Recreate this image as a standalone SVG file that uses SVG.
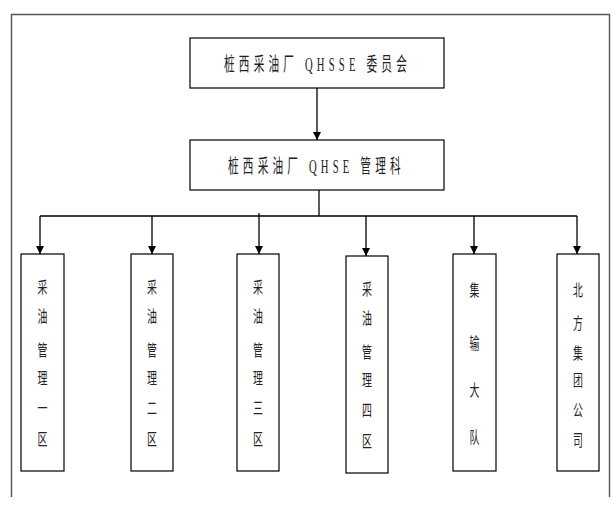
<svg xmlns="http://www.w3.org/2000/svg" width="611" height="507" viewBox="0 0 611 507">
<defs>
<marker id="arr" viewBox="0 0 10 10" refX="10" refY="5" markerWidth="8" markerHeight="8" markerUnits="userSpaceOnUse" orient="auto">
<path d="M0,0 L10,5 L0,10 z" fill="#000"/>
</marker>
<style>
.box{fill:#fff;stroke:#000;stroke-width:1.2}
.ln{fill:none;stroke:#000;stroke-width:1.3}
.t{font-family:"Liberation Serif","Noto Sans CJK SC",serif;font-size:19px;letter-spacing:7.5px;fill:#222}
.v{font-family:"Noto Sans CJK SC",sans-serif;font-size:16px;fill:#222;text-anchor:middle}
</style>
</defs>
<rect width="611" height="507" fill="#fff"/>
<path d="M11.5,497 V14.5 H609.5 V497" fill="none" stroke="#555" stroke-width="1.4"/>
<g id="connectors">
<line class="ln" x1="317" y1="88" x2="317" y2="140" marker-end="url(#arr)"/>
<line class="ln" x1="319" y1="190" x2="319" y2="216"/>
<line class="ln" x1="40" y1="216" x2="577" y2="216"/>
<line class="ln" x1="40" y1="216" x2="40" y2="254" marker-end="url(#arr)"/>
<line class="ln" x1="152" y1="216" x2="152" y2="254" marker-end="url(#arr)"/>
<line class="ln" x1="259" y1="213" x2="259" y2="254" marker-end="url(#arr)"/>
<line class="ln" x1="366" y1="216" x2="366" y2="256" marker-end="url(#arr)"/>
<line class="ln" x1="474" y1="216" x2="474" y2="254" marker-end="url(#arr)"/>
<line class="ln" x1="577" y1="216" x2="577" y2="254" marker-end="url(#arr)"/>
</g>
<g id="n-committee">
<rect class="box" x="190" y="38" width="254" height="50"/>
<text class="t" transform="translate(224,70.5) scale(0.56,1)" x="0" y="0">桩西采油厂 QHSSE 委员会</text>
</g>
<g id="n-dept">
<rect class="box" x="190" y="140" width="254" height="50"/>
<text class="t" transform="translate(228,173) scale(0.56,1)" x="0" y="0">桩西采油厂 QHSE 管理科</text>
</g>
<g id="n-area1">
<rect class="box" x="21" y="254" width="43" height="217"/>
<g transform="translate(42.5,0) scale(0.62,1)"><text class="v" x="0" y="293">采</text><text class="v" x="0" y="322">油</text><text class="v" x="0" y="356">管</text><text class="v" x="0" y="384">理</text><text class="v" x="0" y="414">一</text><text class="v" x="0" y="445">区</text></g>
</g>
<g id="n-area2">
<rect class="box" x="131" y="254" width="42" height="217"/>
<g transform="translate(152,0) scale(0.62,1)"><text class="v" x="0" y="293">采</text><text class="v" x="0" y="322">油</text><text class="v" x="0" y="356">管</text><text class="v" x="0" y="384">理</text><text class="v" x="0" y="414">二</text><text class="v" x="0" y="445">区</text></g>
</g>
<g id="n-area3">
<rect class="box" x="237" y="254" width="42" height="217"/>
<g transform="translate(258,0) scale(0.62,1)"><text class="v" x="0" y="293">采</text><text class="v" x="0" y="322">油</text><text class="v" x="0" y="356">管</text><text class="v" x="0" y="384">理</text><text class="v" x="0" y="414">三</text><text class="v" x="0" y="445">区</text></g>
</g>
<g id="n-area4">
<rect class="box" x="346" y="256" width="42" height="217"/>
<g transform="translate(367,0) scale(0.62,1)"><text class="v" x="0" y="295">采</text><text class="v" x="0" y="324">油</text><text class="v" x="0" y="358">管</text><text class="v" x="0" y="386">理</text><text class="v" x="0" y="416">四</text><text class="v" x="0" y="447">区</text></g>
</g>
<g id="n-transport">
<rect class="box" x="453" y="254" width="43" height="217"/>
<g transform="translate(474.5,0) scale(0.62,1)"><text class="v" x="0" y="296">集</text><text class="v" x="0" y="349">输</text><text class="v" x="0" y="396">大</text><text class="v" x="0" y="443">队</text></g>
</g>
<g id="n-north">
<rect class="box" x="557" y="254" width="42" height="217"/>
<g transform="translate(578,0) scale(0.62,1)"><text class="v" x="0" y="296">北</text><text class="v" x="0" y="329">方</text><text class="v" x="0" y="359">集</text><text class="v" x="0" y="386">团</text><text class="v" x="0" y="416">公</text><text class="v" x="0" y="446">司</text></g>
</g>
</svg>
